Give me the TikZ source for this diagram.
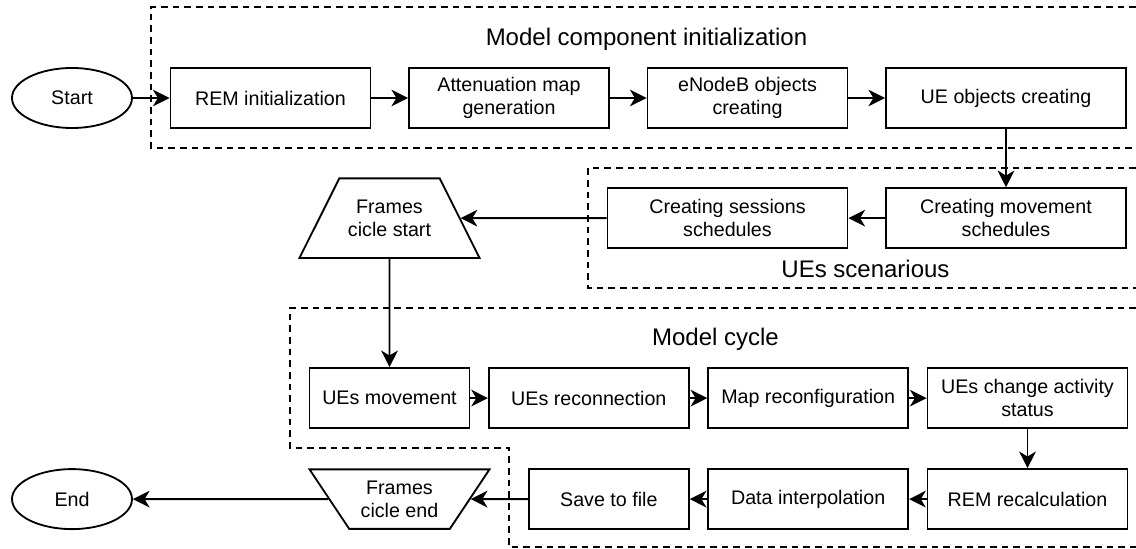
\documentclass[tikz,border=0pt]{standalone}
\usepackage{fontspec}
\setmainfont{Liberation Sans}
\usepackage{tikz}
\usetikzlibrary{positioning,shapes.geometric,arrows.meta}

\begin{document}
\begin{tikzpicture}[x=0.6pt, y=-0.6pt,
    every node/.style={font=\fontsize{11.8}{13.8}\selectfont, align=center},
    process/.style={rectangle, draw, line width=1.1pt, minimum height=36pt, minimum width=120pt, inner sep=2pt},
    shortbox/.style={process, minimum width=96pt},
    widebox/.style={process, minimum width=144pt},
    terminal/.style={ellipse, draw, line width=1.1pt, minimum width=72pt, minimum height=36pt, inner sep=0pt},
    loopstart/.style={trapezium, draw, line width=1.1pt, trapezium stretches body=true, trapezium left angle=63.43, trapezium right angle=63.43, minimum width=108pt, inner xsep=1pt, inner ysep=12.85pt},
    loopend/.style={loopstart, trapezium left angle=123.69, trapezium right angle=123.69, inner ysep=6.85pt},
    group/.style={dash pattern=on 4pt off 3pt, line width=0.9pt},
    grouptitle/.style={font=\fontsize{14.4}{17}\selectfont, anchor=base},
    flow/.style={-{Stealth[length=10pt, width=10pt, inset=3pt]}, line width=1.1pt},
    node distance=22pt]
    \useasboundingbox (0,0) rectangle (1136,549);

    % dashed groups
    \draw[group] (1136,7) -| (151,148) -- (1136,148);
    \draw[group] (1136,168) -| (588,288) -- (1136,288);
    \draw[group] (1136,308) -| (290,448) -| (509,547) -- (1136,547);
    \node[grouptitle] (inittitle) at (646.5,46) {Model component initialization};
    \node[grouptitle] (scentitle) at (865.5,278) {UEs scenarious};
    \node[grouptitle] (cycletitle) at (715.5,346) {Model cycle};

    % initialization
    \node[terminal] (start) at (72,98) {Start};
    \node[process, right=of start] (reminit) {REM initialization};
    \node[process, right=of reminit] (attmap) {Attenuation map\\generation};
    \node[process, right=of attmap] (enbobj) {eNodeB objects\\creating};
    \node[widebox, right=of enbobj] (ueobj) {UE objects creating};

    % scenarios
    \node[widebox, below=35pt of ueobj] (movesch) {Creating movement\\schedules};
    \node[widebox, left=of movesch] (sesssch) {Creating sessions\\schedules};
    \node[loopstart, left of=sesssch, node distance=202.8pt] (fstart) {Frames\\cicle start};

    % cycle
    \node[shortbox, below=65pt of fstart] (uemove) {UEs movement};
    \node[process, right=10.5pt of uemove] (reconn) {UEs reconnection};
    \node[process, right=10.5pt of reconn] (mapconf) {Map reconfiguration};
    \node[process, right=10.5pt of mapconf] (uestat) {UEs change activity\\status};
    \node[process, below=23.5pt of uestat] (remcalc) {REM recalculation};
    \node[process, left=10.5pt of remcalc] (interp) {Data interpolation};
    \node[shortbox, left=10.5pt of interp] (savefile) {Save to file};
    \node[loopend, left of=savefile, node distance=125.6pt] (fend) {Frames\\cicle end};
    \node[terminal, left of=fend, node distance=196.5pt] (finish) {End};

    \draw[flow] (start) -- (reminit);
    \draw[flow] (reminit) -- (attmap);
    \draw[flow] (attmap) -- (enbobj);
    \draw[flow] (enbobj) -- (ueobj);
    \draw[flow] (ueobj) -- (movesch);
    \draw[flow] (movesch) -- (sesssch);
    \draw[flow] (sesssch) -- (fstart);
    \draw[flow] (fstart) -- (uemove);
    \draw[flow] (uemove) -- (reconn);
    \draw[flow] (reconn) -- (mapconf);
    \draw[flow] (mapconf) -- (uestat);
    \draw[flow] (uestat) -- (remcalc);
    \draw[flow] (remcalc) -- (interp);
    \draw[flow] (interp) -- (savefile);
    \draw[flow] (savefile) -- (fend);
    \draw[flow] (fend) -- (finish);
\end{tikzpicture}
\end{document}
